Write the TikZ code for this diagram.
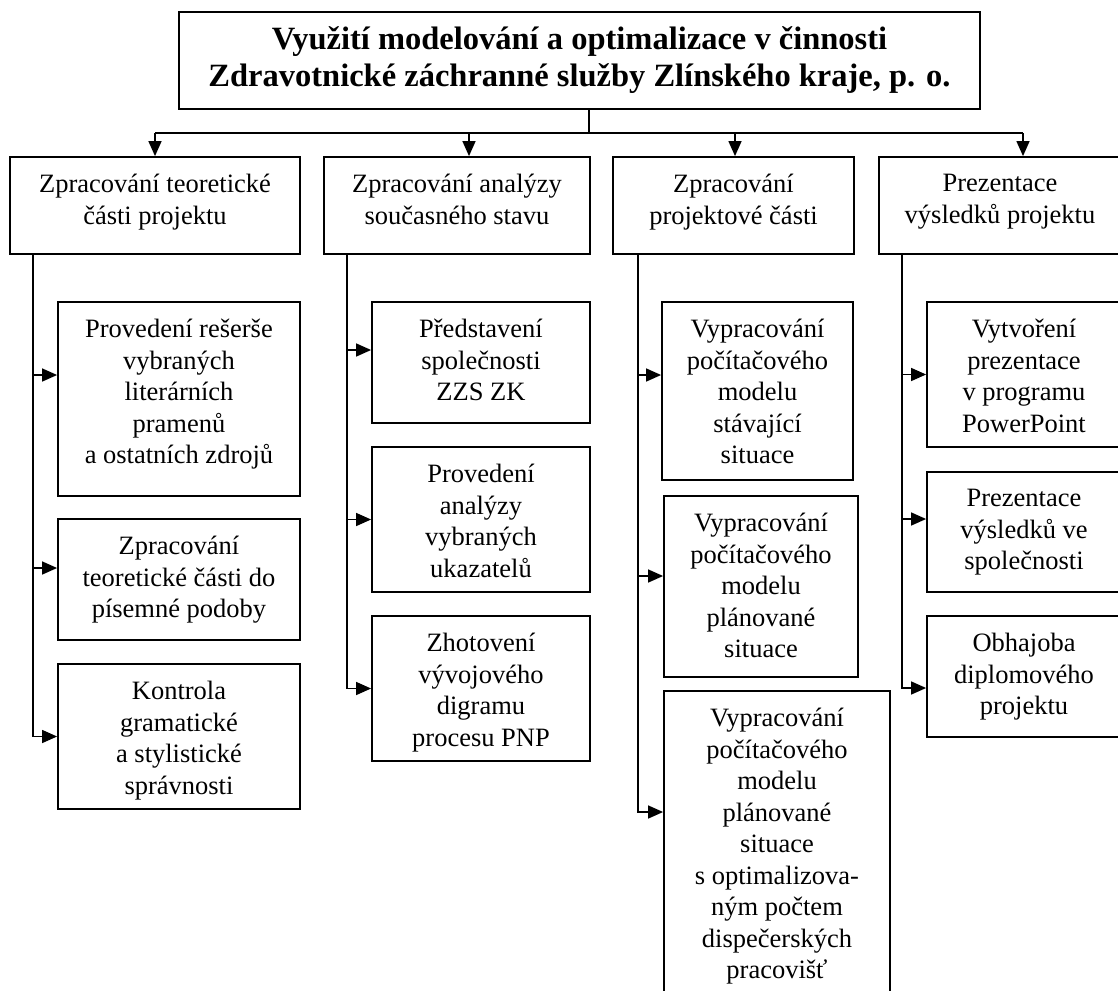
\documentclass[tikz,border=0pt]{standalone}
\usepackage{fontspec}
\setmainfont{Liberation Serif}
\usetikzlibrary{arrows.meta}
\tikzstyle{box} = [draw, line width=1.8pt, rectangle, inner sep=0pt]
\tikzstyle{boxtext} = [anchor=north, align=center, inner xsep=0pt, inner ysep=18pt, font=\fontsize{26.5}{31.5}\selectfont]
\tikzstyle{conn} = [line width=1.4pt]
\tikzstyle{arr} = [conn, -{Triangle[length=15pt,width=13pt]}]
% box: name, left, top, right, bottom, text
\newcommand{\blok}[6]{\node[box, minimum width=#4-#2, minimum height=#5-#3, label={[boxtext]north:#6}] (#1) at ({(#2+#4)/2},{(#3+#5)/2}) {};}

\begin{document}
\begin{tikzpicture}[x=1pt, y=-1pt]
            \useasboundingbox (0,0) rectangle (1118,990);
            \clip (0,0) rectangle (1118,990);
            \node[box, minimum width=801, minimum height=97, align=center, font=\fontsize{32.5}{37}\selectfont\bfseries] (T) at (579.5,60.5)
                {Využití modelování a optimalizace v činnosti\\Zdravotnické záchranné služby Zlínského kraje, p. o.};
            % first level
            \blok{L1}{10}{157}{300}{254}{Zpracování teoretické\\části projektu}
            \blok{L2}{324}{157}{590}{254}{Zpracování analýzy\\současného stavu}
            \blok{L3}{613}{157}{854}{254}{Zpracování\\projektové části}
            \blok{L4}{879}{157}{1121}{254}{Prezentace\\výsledků projektu}
            % second level
            \blok{A1}{58}{302}{300}{496}{Provedení rešerše\\vybraných\\literárních\\pramenů\\a ostatních zdrojů}
            \blok{A2}{58}{519}{300}{640}{Zpracování\\teoretické části do\\písemné podoby}
            \blok{A3}{58}{664}{300}{809}{Kontrola\\gramatické\\a stylistické\\správnosti}
            \blok{B1}{372}{302}{590}{423}{Představení\\společnosti\\ZZS ZK}
            \blok{B2}{372}{447}{590}{592}{Provedení\\analýzy\\vybraných\\ukazatelů}
            \blok{B3}{372}{616}{590}{761}{Zhotovení\\vývojového\\digramu\\procesu PNP}
            \blok{C1}{662}{302}{853}{480}{Vypracování\\počítačového\\modelu\\stávající\\situace}
            \blok{C2}{664}{496}{858}{677}{Vypracování\\počítačového\\modelu\\plánované\\situace}
            \blok{C3}{664}{691}{890}{1000}{Vypracování\\počítačového\\modelu\\plánované\\situace\\s optimalizova-\\ným počtem\\dispečerských\\pracovišť}
            \blok{D1}{927}{302}{1121}{447}{Vytvoření\\prezentace\\v programu\\PowerPoint}
            \blok{D2}{927}{472}{1121}{592}{Prezentace\\výsledků ve\\společnosti}
            \blok{D3}{927}{616}{1121}{737}{Obhajoba\\diplomového\\projektu}
            % connectors
            \coordinate (bus) at (589,133);
            \draw[conn] (T.south -| bus) -- (bus);
            \draw[conn] (L1.north |- bus) -- ([xshift=23pt]L4.north |- bus);
            \foreach \n/\d in {1/0, 2/12, 3/1.5, 4/23} {
                \draw[arr] ([xshift=\d pt]L\n.north |- bus) -- ([xshift=\d pt]L\n.north);
            }
            \coordinate (s1) at ([xshift=24pt]L1.south west);
            \coordinate (s2) at ([xshift=24pt]L2.south west);
            \coordinate (s3) at ([xshift=26pt]L3.south west);
            \coordinate (s4) at ([xshift=24pt]L4.south west);
            \foreach \c/\s/\d in {A1/s1/24, A2/s1/11.5, B1/s2/12.5, B2/s2/0, C1/s3/16, C2/s3/10.5, D1/s4/0, D2/s4/13} {
                \draw[arr] ([yshift=\d pt]\c.west -| \s) -- ([yshift=\d pt]\c.west);
            }
            \foreach \c/\s/\d in {A3/s1/0, B3/s2/0, C3/s3/33.5, D3/s4/-11.5} {
                \draw[arr] (\s) |- ([yshift=\d pt]\c.west);
            }
\end{tikzpicture}
\end{document}
